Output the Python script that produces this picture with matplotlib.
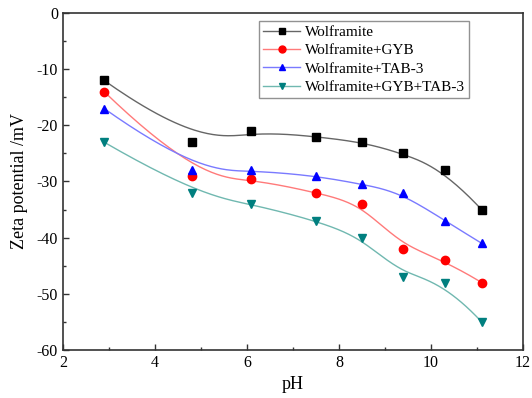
import numpy as np
import matplotlib
matplotlib.use("Agg")
import matplotlib.pyplot as plt

plt.rcParams['font.family'] = ['Liberation Serif', 'DejaVu Serif']
plt.rcParams['axes.unicode_minus'] = False

ph = [2.9, 4.8, 6.1, 7.5, 8.5, 9.4, 10.3, 11.1]
wolframite = [-12, -23, -21, -22, -23, -25, -28, -35]
wolf_gyb = [-14, -29, -29.5, -32, -34, -42, -44, -48]
wolf_tab = [-17, -28, -28, -29, -30.5, -32, -37, -41]
wolf_gyb_tab = [-23, -32, -34, -37, -40, -47, -48, -55]

labels = ['Wolframite', 'Wolframite+GYB', 'Wolframite+TAB-3', 'Wolframite+GYB+TAB-3']
marker_colors = ['#000000', '#ff0000', '#0000ff', '#007f7f']
line_colors = ['#666666', '#ff7a7a', '#7a7aff', '#70b8b0']
markers = ['s', 'o', '^', 'v']


def bspline(xs, ys, k=3, n=300):
    """Clamped cubic B-spline using the data points as control points."""
    P = np.column_stack([xs, ys]).astype(float)
    m = len(P)
    inner = np.arange(1, m - k)
    knots = np.concatenate([np.zeros(k + 1), inner, np.full(k + 1, m - k)]).astype(float)
    ts = np.linspace(0, m - k, n)
    out = []
    for t in ts:
        if t >= knots[m]:
            s = m - 1
        else:
            s = np.searchsorted(knots, t, side='right') - 1
        d = [P[j + s - k].copy() for j in range(k + 1)]
        for r in range(1, k + 1):
            for j in range(k, r - 1, -1):
                i = j + s - k
                denom = knots[i + k + 1 - r] - knots[i]
                a = 0.0 if denom == 0 else (t - knots[i]) / denom
                d[j] = (1 - a) * d[j - 1] + a * d[j]
        out.append(d[k])
    out = np.array(out)
    return out[:, 0], out[:, 1]


fig = plt.figure(figsize=(5.32, 3.98), dpi=100)
ax = fig.add_axes([0.118, 0.121, 0.865, 0.846])

for ys, lab, mc, lc, mk in zip([wolframite, wolf_gyb, wolf_tab, wolf_gyb_tab],
                               labels, marker_colors, line_colors, markers):
    sx, sy = bspline(ph, ys)
    ax.plot(sx, sy, color=lc, lw=1.0, zorder=2)
    ax.plot(ph, ys, linestyle='none', marker=mk, color=mc, markersize=6, zorder=3)
    ax.plot([], [], color=lc, lw=1.0, marker=mk, mfc=mc, mec=mc, markersize=5, label=lab)

ax.set_xlim(2, 12)
ax.set_ylim(-60, 0)
ax.set_xticks(np.arange(2, 13, 2))
ax.set_xticks(np.arange(3, 12, 2), minor=True)
ax.set_yticks(np.arange(-60, 1, 10))
ax.set_yticks(np.arange(-55, 0, 10), minor=True)
ax.tick_params(which='both', direction='in', top=False, right=False, labelsize=11.5,
               color='#333333', width=1.0)
ax.tick_params(which='major', length=4.5)
ax.tick_params(which='minor', length=2.5)
for sp in ax.spines.values():
    sp.set_color('#333333')
    sp.set_linewidth(1.2)

ax.set_xlabel('pH', fontsize=13, labelpad=4)
ax.set_ylabel('Zeta potential /mV', fontsize=13, labelpad=6)

leg = ax.legend(loc='upper left', bbox_to_anchor=(0.42, 0.985), fontsize=11,
                frameon=True, fancybox=False, edgecolor='#777777', handlelength=2.4,
                handletextpad=0.3, borderpad=0.28, labelspacing=0.3, borderaxespad=0.2)
leg.get_frame().set_linewidth(1.0)

fig.savefig('out.png', dpi=100)
